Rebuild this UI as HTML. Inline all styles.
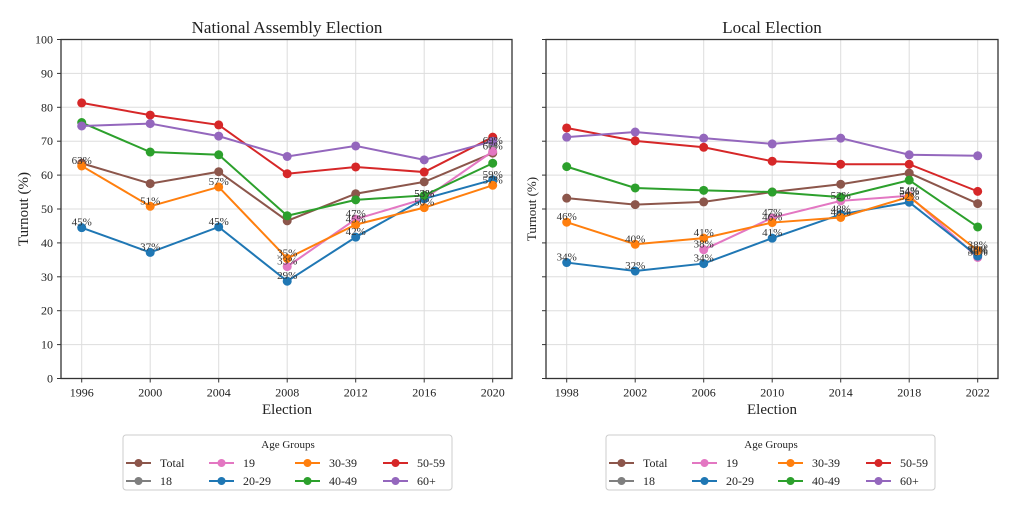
<!DOCTYPE html>
<html><head><meta charset="utf-8">
<style>
body{margin:0;background:#fff;}
svg{display:block;font-family:"Liberation Serif",serif;}
</style></head>
<body>
<svg id="s" width="1024" height="509" viewBox="0 0 1024 509" xmlns="http://www.w3.org/2000/svg">
<text x="287" y="33" font-size="17" text-anchor="middle" fill="#222">National Assembly Election</text>
<text x="772" y="33" font-size="17" text-anchor="middle" fill="#222">Local Election</text>
<text x="287" y="414" font-size="15" text-anchor="middle" fill="#222">Election</text>
<text x="772" y="414" font-size="15" text-anchor="middle" fill="#222">Election</text>
<text transform="translate(28,209) rotate(-90)" font-size="15" text-anchor="middle" fill="#222">Turnout (%)</text>
<text transform="translate(536,209) rotate(-90)" font-size="13" text-anchor="middle" fill="#222">Turnout (%)</text>
<g id="g"></g>
</svg>
<script>
const g=document.getElementById('g');let h='';
const Y=v=>378.5-3.39*v;
const C={t:'#8c564b',e:'#7f7f7f',n:'#e377c2',b:'#1f77b4',o:'#ff7f0e',gr:'#2ca02c',r:'#d62728',p:'#9467bd'};
function axes(x0,x1,xs,years,labels){
 for(let v=0;v<=100;v+=10){const y=Y(v);h+=`<line x1="${x0}" x2="${x1}" y1="${y}" y2="${y}" stroke="#ddd" stroke-width="1"/>`;
  h+=`<line x1="${x0-4}" x2="${x0}" y1="${y}" y2="${y}" stroke="#333"/>`;
  if(labels)h+=`<text x="${x0-8}" y="${y+4}" font-size="12" text-anchor="end" fill="#222">${v}</text>`;}
 xs.forEach((x,i)=>{h+=`<line x1="${x}" x2="${x}" y1="${Y(100)}" y2="${Y(0)}" stroke="#ddd"/>`;
  h+=`<line x1="${x}" x2="${x}" y1="${Y(0)}" y2="${Y(0)+4}" stroke="#333"/>`;
  h+=`<text x="${x}" y="${Y(0)+18}" font-size="12" text-anchor="middle" fill="#222">${years[i]}</text>`;});
 h+=`<rect x="${x0}" y="${Y(100)}" width="${x1-x0}" height="${Y(0)-Y(100)}" fill="none" stroke="#333" stroke-width="1.3"/>`;
}
function series(xs,d,lab){
 const order=['t','e','n','b','o','gr','r','p'];
 order.forEach(k=>{const a=d[k];const pts=[];a.forEach((v,i)=>{if(v!=null)pts.push([xs[i],Y(v)])});
  h+=`<polyline points="${pts.map(p=>p.join(',')).join(' ')}" fill="none" stroke="${C[k]}" stroke-width="2"/>`;
  pts.forEach(p=>h+=`<circle cx="${p[0]}" cy="${p[1]}" r="4.5" fill="${C[k]}"/>`);});
 ['e','n','b','o'].forEach(k=>d[k].forEach((v,i)=>{if(v!=null)h+=`<text x="${xs[i]}" y="${Y(v)-2}" font-size="11" text-anchor="middle" fill="#333">${Math.round(v)}%</text>`;}));
}
function legend(x0){
 h+=`<rect x="${x0}" y="435" width="329" height="55" rx="3" fill="#fff" stroke="#ccc"/>`;
 h+=`<text x="${x0+165}" y="448" font-size="11" text-anchor="middle" fill="#222">Age Groups</text>`;
 const it=[['Total','t'],['18','e'],['19','n'],['20-29','b'],['30-39','o'],['40-49','gr'],['50-59','r'],['60+','p']];
 const cx=[3,86,172,260];
 it.forEach((e,i)=>{const c=Math.floor(i/2),r=i%2;const lx=x0+cx[c],y=463+r*18;
  h+=`<line x1="${lx}" x2="${lx+25}" y1="${y}" y2="${y}" stroke="${C[e[1]]}" stroke-width="2"/><circle cx="${lx+12.5}" cy="${y}" r="4" fill="${C[e[1]]}"/>`;
  h+=`<text x="${lx+34}" y="${y+4}" font-size="12" fill="#222">${e[0]}</text>`;});
}
const xL=[0,1,2,3,4,5,6].map(i=>81.7+68.5*i), xR=[0,1,2,3,4,5,6].map(i=>566.7+68.5*i);
axes(61,512,xL,[1996,2000,2004,2008,2012,2016,2020],true);
axes(546,998,xR,[1998,2002,2006,2010,2014,2018,2022],false);
series(xL,{t:[63.5,57.5,61,46.5,54.5,58,66.5],e:[null,null,null,null,null,null,68.6],n:[null,null,null,33,47,53,67],
 b:[44.5,37.2,44.7,28.7,41.7,53,58.6],o:[62.7,50.8,56.5,35.4,45.4,50.4,57],gr:[75.5,66.8,66,48,52.7,54,63.5],
 r:[81.3,77.7,74.8,60.4,62.4,60.9,71.2],p:[74.5,75.2,71.5,65.5,68.6,64.5,70]});
series(xR,{t:[53.2,51.3,52.1,55,57.3,60.6,51.6],e:[null,null,null,null,null,null,36.4],n:[null,null,38,47.4,52.4,53.9,35.7],
 b:[34.2,31.7,33.9,41.4,48.4,52,36.1],o:[46.1,39.6,41.4,46,47.5,53.6,37.7],gr:[62.5,56.2,55.5,55,53.5,58.5,44.7],
 r:[73.9,70.1,68.2,64.1,63.2,63.2,55.2],p:[71.2,72.7,70.9,69.2,70.9,66,65.7]});
legend(123);legend(606);
g.innerHTML=h;
</script>
</body></html>
